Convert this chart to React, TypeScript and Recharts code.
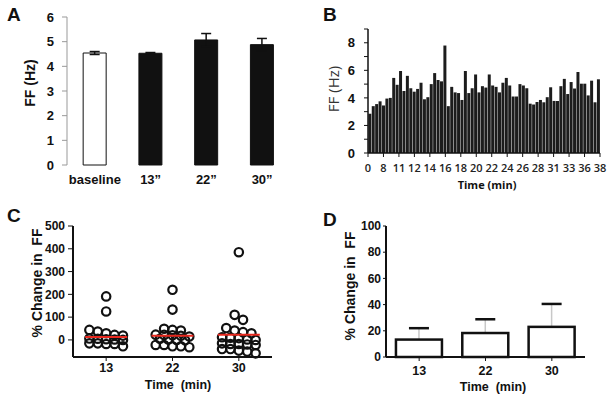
import React from 'react'
import {
  BarChart, Bar, XAxis, YAxis, ErrorBar, Cell, ScatterChart, Scatter,
} from 'recharts'

// A: mean firing frequency per condition
const conditions = ['baseline', '13\u201D', '22\u201D', '30\u201D']
const ffMean = [4.54, 4.53, 5.07, 4.88]
const ffSem = [0.06, 0.03, 0.26, 0.25]

// B: firing frequency per time bin
const ffBins = [
  2.85, 3.4, 3.55, 3.75, 3.45, 3.95, 4.0, 5.45, 4.95, 5.95, 4.5, 5.6, 4.7, 4.45, 4.65, 5.1, 3.9,
  4.05, 5.0, 5.8, 5.3, 5.2, 7.8, 3.4, 4.8, 4.4, 4.35, 3.85, 5.95, 4.35, 4.7, 5.7, 4.4, 4.85,
  4.75, 5.7, 4.9, 4.8, 4.4, 5.1, 5.45, 4.9, 4.1, 4.1, 5.0, 4.9, 4.7, 3.58, 3.52, 3.7, 3.85,
  3.68, 4.05, 4.77, 3.78, 3.78, 4.85, 5.38, 4.28, 5.15, 4.68, 5.88, 5.03, 5.03, 4.18, 5.25,
  3.68, 5.35,
]
const timeTicks = ['0', '8', '11', '12', '14', '16', '18', '20', '22', '24', '26', '28', '31', '33', '36', '38']

// C / D: % change in FF per time point
const timePoints = ['13', '22', '30']
const change13 = [191, 125, 44, 37, 29, 22, 19, 6, 5, 3, 2, 0, -15, -15, -18, -18, -28]
const change22 = [220, 133, 49, 44, 41, 23, 22, 20, 18, 15, 5, 2, 0, -2, -22, -22, -28, -28, -32]
const change30 = [385, 110, 88, 52, 41, 34, 29, 12, 10, 8, 2, 0, -15, -18, -18, -20, -22, -40, -40, -47, -51, -59]
const changeMean = [13.3, 18.3, 23.0]
const changeSem = [8.7, 10.5, 17.5]

const FONT = "'Liberation Sans', Arial, sans-serif"
const INK = '#111'

const aRows = conditions.map((c, i) => ({ cond: c, ff: ffMean[i], sem: ffSem[i] }))
const bRows = ffBins.map((v, i) => ({ x: i + 0.5, ff: v }))
const bTickVals = timeTicks.map((_, i) => (i * ffBins.length) / (timeTicks.length - 1))
const dRows = timePoints.map((t, i) => ({ t, pct: changeMean[i], err: changeSem[i] }))

// panel C geometry
const C_W = 300
const C_H = 200
const C_TOP = 26
const C_RIGHT = 28
const C_YW = 73
const C_XH = 43
const C_DOMAIN: [number, number] = [-75, 500]
const DOT_GAP = 8.4

// prism-style dot plot: close values share a row and get spread sideways
function swarm(values: number[], span = 25, maxRow = 5) {
  const order = values.map((_, i) => i).sort((a, b) => values[b] - values[a])
  const off = values.map(() => 0)
  let row: number[] = []
  const flush = () => {
    row.forEach((idx, j) => (off[idx] = (j - (row.length - 1) / 2) * DOT_GAP))
    row = []
  }
  for (const i of order) {
    if (row.length && (row.length >= maxRow || values[row[0]] - values[i] > span)) flush()
    row.push(i)
  }
  flush()
  return off
}

const bandPx = (C_W - C_YW - C_RIGHT) / timePoints.length
const cPoints = [change13, change22, change30].flatMap((vals, g) => {
  const off = swarm(vals)
  return vals.map((v, i) => ({ x: g + 0.5 + off[i] / bandPx, y: v }))
})
const cMeans = changeMean.map((m, g) => ({ x: g + 0.5, y: m }))

function AxisTitle(props: any) {
  const { tx, ty, text, vertical, size = 14, weight = 700, fill = INK, family = FONT } = props
  return (
    <text
      x={tx}
      y={ty}
      transform={vertical ? `rotate(-90 ${tx} ${ty})` : undefined}
      textAnchor="middle"
      dominantBaseline="central"
      fontSize={size}
      fontWeight={weight}
      fontFamily={family}
      fill={fill}
    >
      {text}
    </text>
  )
}

const Dot = (p: any) => (
  <circle cx={p.cx} cy={p.cy} r={4.2} fill="none" stroke={INK} strokeWidth={2.2} />
)

const MeanTick = (p: any) => (
  <line x1={p.cx - 21} x2={p.cx + 21} y1={p.cy} y2={p.cy} stroke="#e8281e" strokeWidth={2} />
)

const WhiskerBar = (p: any) => {
  const { x, y, width, height, payload } = p
  const capY = y - payload.err * (height / payload.pct)
  const cx = x + width / 2
  return (
    <g>
      <line x1={cx} x2={cx} y1={y} y2={capY} stroke="#c8c8c8" strokeWidth={1.5} />
      <rect x={x} y={y} width={width} height={height} fill="#fff" stroke={INK} strokeWidth={2.5} />
      <line x1={cx - 10} x2={cx + 10} y1={capY} y2={capY} stroke={INK} strokeWidth={2.5} />
    </g>
  )
}

const letter = (ch: string, left: number, top: number) => (
  <div
    style={{
      position: 'absolute', left, top, fontFamily: FONT, fontWeight: 700,
      fontSize: 19, lineHeight: 1, color: INK,
    }}
  >
    {ch}
  </div>
)

const boldTick = (size: number) => ({ fontSize: size, fontWeight: 700, fill: INK, fontFamily: FONT })

export default function App() {
  return (
    <div style={{ position: 'absolute', left: 0, top: 0, width: 610, height: 400, background: '#fff' }}>
      {letter('A', 7, 5)}
      {letter('B', 323, 5)}
      {letter('C', 7, 206)}
      {letter('D', 323, 210)}

      <div style={{ position: 'absolute', left: 0, top: 0 }}>
        <BarChart width={300} height={200} data={aRows} margin={{ top: 17, right: 10, left: 0, bottom: 5 }} barCategoryGap="29%">
          <XAxis dataKey="cond" axisLine={false} tickLine={false} tickSize={0} tickMargin={10} height={30} interval={0} tick={boldTick(13)} />
          <YAxis
            width={67}
            domain={[0, 6]}
            ticks={[0, 1, 2, 3, 4, 5, 6]}
            axisLine={{ stroke: '#999' }}
            tickLine={{ stroke: '#999' }}
            tickSize={5}
            tickMargin={8}
            tick={boldTick(13)}
            label={<AxisTitle tx={30} ty={83} text="FF (Hz)" vertical />}
          />
          <Bar dataKey="ff" stroke={INK} strokeWidth={1} isAnimationActive={false}>
            {aRows.map((r, i) => (
              <Cell key={r.cond} fill={i === 0 ? '#fff' : INK} />
            ))}
            <ErrorBar dataKey="sem" width={5} stroke={INK} strokeWidth={1.5} isAnimationActive={false} />
          </Bar>
        </BarChart>
      </div>

      <div style={{ position: 'absolute', left: 300, top: 0 }}>
        <BarChart width={310} height={200} data={bRows} margin={{ top: 29, right: 10, left: 0, bottom: 3 }} barCategoryGap="10%">
          <XAxis
            type="number"
            dataKey="x"
            domain={[0, ffBins.length]}
            ticks={bTickVals}
            interval={0}
            tickFormatter={(v: number) => timeTicks[Math.round((v * (timeTicks.length - 1)) / ffBins.length)]}
            axisLine={{ stroke: INK, strokeWidth: 1.5 }}
            tickLine={{ stroke: INK }}
            tickSize={4}
            tickMargin={7}
            height={44}
            tick={{ fontSize: 11, fontWeight: 600, fill: '#222', fontFamily: "'Open Sans', sans-serif" }}
            label={<AxisTitle tx={187} ty={184} text="Time (min)" size={11} family="'Open Sans', sans-serif" />}
          />
          <YAxis
            width={68}
            domain={[0, 9]}
            ticks={[0, 1, 2, 3, 4, 5, 6, 7, 8, 9]}
            interval={0}
            tickFormatter={(v: number) => (v % 2 ? '' : String(v))}
            axisLine={{ stroke: INK, strokeWidth: 1.5 }}
            tickLine={{ stroke: INK }}
            tickSize={4}
            tickMargin={9}
            tick={boldTick(13)}
            label={<AxisTitle tx={33} ty={89} text="FF (Hz)" vertical size={15} weight={400} fill="#333" family="'Open Sans', sans-serif" />}
          />
          <Bar dataKey="ff" fill="#1c1c1c" isAnimationActive={false} />
        </BarChart>
      </div>

      <div style={{ position: 'absolute', left: 0, top: 200 }}>
        <ScatterChart width={C_W} height={C_H} margin={{ top: C_TOP, right: C_RIGHT, left: 0, bottom: 0 }}>
          <XAxis
            type="number"
            dataKey="x"
            domain={[0, timePoints.length]}
            ticks={[0.5, 1.5, 2.5]}
            tickFormatter={(v: number) => timePoints[Math.floor(v)]}
            axisLine={{ stroke: INK, strokeWidth: 2 }}
            tickLine={{ stroke: INK }}
            tickSize={4}
            tickMargin={2}
            height={C_XH}
            tick={boldTick(12.5)}
            label={<AxisTitle tx={178} ty={185} text={'Time\u00A0 (min)'} size={12.5} />}
          />
          <YAxis
            type="number"
            dataKey="y"
            width={C_YW}
            domain={C_DOMAIN}
            ticks={[0, 100, 200, 300, 400, 500]}
            axisLine={{ stroke: INK, strokeWidth: 2 }}
            tickLine={{ stroke: INK }}
            tickSize={5}
            tickMargin={3}
            tick={boldTick(12)}
            label={<AxisTitle tx={37} ty={83} text={'% Change in\u00A0 FF'} vertical />}
          />
          <Scatter data={cPoints} shape={Dot} isAnimationActive={false} />
          <Scatter data={cMeans} shape={MeanTick} isAnimationActive={false} />
        </ScatterChart>
      </div>

      <div style={{ position: 'absolute', left: 300, top: 200 }}>
        <BarChart width={310} height={200} data={dRows} margin={{ top: 26, right: 25, left: 0, bottom: 0 }} barCategoryGap="15%">
          <XAxis
            dataKey="t"
            axisLine={{ stroke: INK, strokeWidth: 2 }}
            tickLine={{ stroke: INK }}
            tickSize={4}
            tickMargin={5}
            height={43}
            tick={boldTick(12.5)}
            label={<AxisTitle tx={193} ty={187} text={'Time\u00A0 (min)'} size={12.5} />}
          />
          <YAxis
            width={86}
            domain={[0, 100]}
            ticks={[0, 20, 40, 60, 80, 100]}
            axisLine={{ stroke: INK, strokeWidth: 2 }}
            tickLine={{ stroke: INK }}
            tickSize={3}
            tickMargin={2}
            tick={boldTick(12)}
            label={<AxisTitle tx={50} ty={86} text={'% Change in\u00A0 FF'} vertical />}
          />
          <Bar dataKey="pct" shape={WhiskerBar} isAnimationActive={false} />
        </BarChart>
      </div>
    </div>
  )
}
